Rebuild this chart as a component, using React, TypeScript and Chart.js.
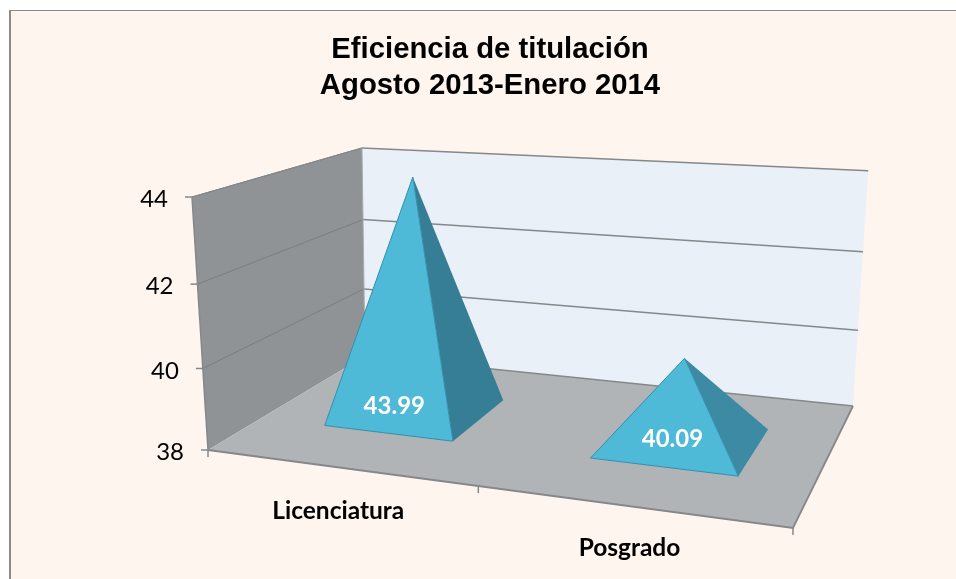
import React, { useEffect, useRef } from "react";
import { Chart, registerables } from "chart.js";

Chart.register(...registerables);

const titleLines = ["Eficiencia de titulación", "Agosto 2013-Enero 2014"];
const categories = ["Licenciatura", "Posgrado"];
const efficiency = [43.99, 40.09];
const valueLabels = ["43.99", "40.09"];
const yMin = 38;
const yMax = 44;
const yStep = 2;

// Floor of the 3D box and the lean of its vertical edges.
const BACK_LEFT = [365, 356];
const BACK_RIGHT = [853, 406];
const LEAN = { fl: -0.0632, bl: -0.0145, fr: 0.054, br: 0.0647 };
const DEPTH_HALF = 0.2;
const BAR_SHIFT = 0.004;
const LABEL_SHIFT = [[5.5, -27.5], [8, -28]];
const CATEGORY_DROP = [44, 41.5];
const LABEL_FONT = "Lato, sans-serif";

type Pt = [number, number];

function makeProjector(chart: any) {
  const xs = chart.scales.x;
  const ys = chart.scales.y;
  const x0 = xs.left, y0 = ys.getPixelForValue(yMin);
  const x1 = xs.right, y1 = y0 + 78;
  const [x2, y2] = BACK_RIGHT;
  const [x3, y3] = BACK_LEFT;
  const dx1 = x1 - x2, dy1 = y1 - y2, dx2 = x3 - x2, dy2 = y3 - y2;
  const sx = x0 - x1 + x2 - x3, sy = y0 - y1 + y2 - y3;
  const den = dx1 * dy2 - dx2 * dy1;
  const g = (sx * dy2 - dx2 * sy) / den;
  const h = (dx1 * sy - sx * dy1) / den;
  const a = x1 - x0 + g * x1, b = x3 - x0 + h * x3;
  const d = y1 - y0 + g * y1, e = y3 - y0 + h * y3;
  return (u: number, v: number, value: number = yMin): Pt => {
    const w = g * u + h * v + 1;
    const fx = (a * u + b * v + x0) / w;
    const fy = (d * u + e * v + y0) / w;
    const full = y0 - ys.getPixelForValue(yMax);
    const t = (y0 - ys.getPixelForValue(value)) / full;
    const rise = (full * t * (0.95 + 0.05 * t)) / w;
    const lean =
      (1 - u) * ((1 - v) * LEAN.fl + v * LEAN.bl) + u * ((1 - v) * LEAN.fr + v * LEAN.br);
    return [fx + lean * rise, fy - rise];
  };
}

function poly(ctx: CanvasRenderingContext2D, pts: Pt[], fill?: any, stroke?: string, lw = 1) {
  ctx.beginPath();
  pts.forEach((p, i) => (i ? ctx.lineTo(p[0], p[1]) : ctx.moveTo(p[0], p[1])));
  if (fill) {
    ctx.closePath();
    ctx.fillStyle = fill;
    ctx.fill();
  }
  if (stroke) {
    ctx.strokeStyle = stroke;
    ctx.lineWidth = lw;
    ctx.stroke();
  }
}

const scenePlugin = {
  id: "scene",
  beforeDraw(chart: any) {
    const { ctx, width, height } = chart;
    ctx.save();
    ctx.fillStyle = "#ffffff";
    ctx.fillRect(0, 0, width, height);
    ctx.fillStyle = "#8a8a8a";
    ctx.fillRect(9, 10, width - 9, height - 10);
    ctx.fillStyle = "#fef5ef";
    ctx.fillRect(11, 11, width - 11, height - 11);
    ctx.restore();
  },
  beforeDatasetsDraw(chart: any) {
    const { ctx } = chart;
    const P = makeProjector(chart);
    const ys = chart.scales.y;
    ctx.save();
    poly(ctx, [P(0, 1), P(1, 1), P(1, 1, yMax), P(0, 1, yMax)], "#e9f0f8");
    poly(ctx, [P(0, 0), P(0, 1), P(0, 1, yMax), P(0, 0, yMax)], "#909396");
    poly(ctx, [P(0, 0), P(1, 0), P(1, 1), P(0, 1)], "#b0b4b7");

    const edge = "#85888a";
    ys.ticks.forEach((tick: any) => {
      const val = tick.value;
      const f = P(0, 0, val), b = P(0, 1, val), r = P(1, 1, val);
      if (val !== yMin) poly(ctx, [f, b], undefined, "#7b7e80", 1);
      poly(ctx, [b, r], undefined, "#85888a", 1.5);
      poly(ctx, [[f[0] - 7, f[1]], f], undefined, edge, 1.5);
      ctx.fillStyle = "#000000";
      ctx.font = `24px ${LABEL_FONT}`;
      ctx.textAlign = "right";
      ctx.textBaseline = "middle";
      ctx.fillText(String(tick.label), f[0] - 24, f[1] + 2.5);
    });
    poly(ctx, [P(0, 0), P(0, 0, yMax)], undefined, edge, 1.5);
    poly(ctx, [P(0, 1), P(0, 1, yMax)], undefined, "#a9acae", 1);
    poly(ctx, [P(0, 0, yMax), P(0, 1, yMax)], undefined, edge, 1.2);
    poly(ctx, [P(0, 0), P(1, 0), P(1, 1)], undefined, edge, 1.8);

    [0, 0.5, 1].forEach((u) => {
      const p = P(u, 0);
      poly(ctx, [p, [p[0], p[1] + 7]], undefined, edge, 1.5);
    });

    const xs = chart.scales.x;
    ctx.fillStyle = "#000000";
    ctx.font = `bold 24.5px ${LABEL_FONT}`;
    ctx.textAlign = "center";
    ctx.textBaseline = "middle";
    categories.forEach((_, i) => {
      const u = (xs.getPixelForValue(i) - xs.left) / (xs.right - xs.left);
      const p = P(u, 0);
      ctx.fillText(xs.getLabelForValue(i), p[0], p[1] + CATEGORY_DROP[i]);
    });
    ctx.restore();
  },
  afterDatasetsDraw(chart: any) {
    const { ctx } = chart;
    const P = makeProjector(chart);
    const xs = chart.scales.x;
    const span = xs.right - xs.left;
    const sideColors = ["#357e96", "#3d8aa4"];
    ctx.save();
    chart.getDatasetMeta(0).data.forEach((bar: any, i: number) => {
      const u = (bar.x - xs.left) / span + BAR_SHIFT;
      const du = bar.width / 2 / span;
      const fl = P(u - du, 0.5 - DEPTH_HALF);
      const fr = P(u + du, 0.5 - DEPTH_HALF);
      const br = P(u + du, 0.5 + DEPTH_HALF);
      const apex = P(u, 0.5, efficiency[i]);
      poly(ctx, [fr, br, apex], sideColors[i]);
      poly(ctx, [fl, fr, apex], "#4fb9d8", "#3490ab", 1);
      ctx.fillStyle = "#ffffff";
      ctx.font = `bold 24px ${LABEL_FONT}`;
      ctx.textAlign = "center";
      ctx.textBaseline = "middle";
      const mid = [(fl[0] + fr[0]) / 2, (fl[1] + fr[1]) / 2];
      ctx.fillText(valueLabels[i], mid[0] + LABEL_SHIFT[i][0], mid[1] + LABEL_SHIFT[i][1]);
    });
    ctx.restore();
  },
};

export default function App() {
  const ref = useRef<HTMLCanvasElement>(null);
  useEffect(() => {
    document.body.style.margin = "0";
    const chart = new Chart(ref.current as HTMLCanvasElement, {
      type: "bar",
      data: {
        labels: categories,
        datasets: [
          {
            label: "Eficiencia de titulación",
            data: efficiency,
            backgroundColor: "rgba(0,0,0,0)",
            borderWidth: 0,
            categoryPercentage: 0.5,
            barPercentage: 1,
          },
        ],
      },
      options: {
        responsive: false,
        animation: false,
        layout: { padding: { left: 187, right: 163, top: 0, bottom: 129 } },
        plugins: {
          legend: { display: false },
          tooltip: { enabled: false },
          title: {
            display: true,
            text: titleLines,
            color: "#000000",
            font: { family: "'Liberation Sans', Arial, sans-serif", size: 29.3, weight: "bold", lineHeight: 36 / 29.3 },
            padding: { top: 32, bottom: 93 },
          },
        },
        scales: {
          x: {
            grid: { display: false },
            border: { display: false },
            ticks: { display: false },
            afterFit: (s: any) => { s.height = 0; },
          },
          y: {
            min: yMin,
            max: yMax,
            grid: { display: false },
            border: { display: false },
            ticks: { display: false, stepSize: yStep },
            afterFit: (s: any) => { s.width = 21; },
          },
        },
      },
      plugins: [scenePlugin],
    } as any);
    return () => chart.destroy();
  }, []);
  return <canvas ref={ref} width={956} height={579} style={{ display: "block" }} />;
}
